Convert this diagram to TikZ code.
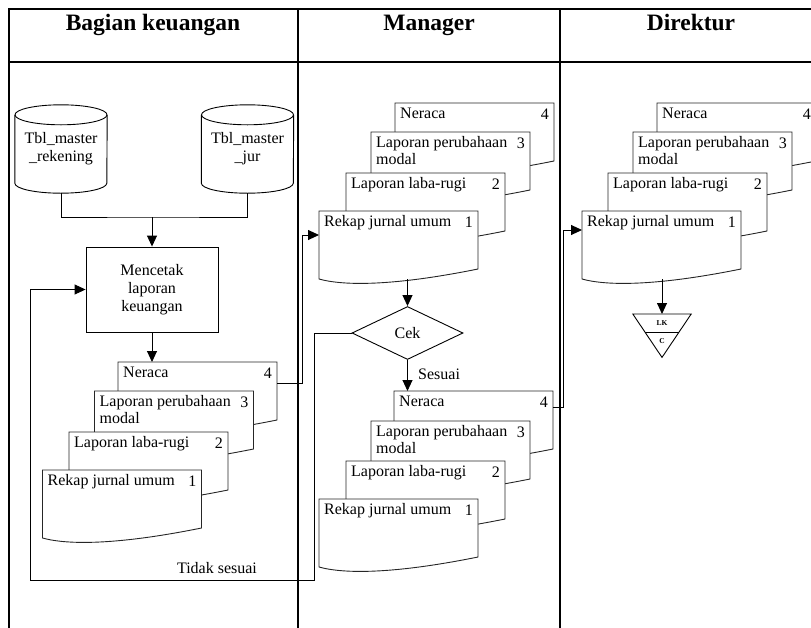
\documentclass[tikz,border=0pt]{standalone}
\usepackage{fontspec}
\setmainfont{Liberation Serif}
\usetikzlibrary{arrows.meta,calc,shapes.geometric}

\tikzset{
  frame/.style={line width=1.3pt, draw=black},
  outline/.style={line width=0.9pt, draw=black!85, fill=white},
  link/.style={line width=0.9pt, draw=black},
  arr/.style={link, -{Triangle[length=11pt,width=10pt]}},
  docbox/.style={anchor=north west, minimum width=159pt, minimum height=68pt,
                 inner sep=0pt, outer sep=0pt},
  doctext/.style={font=\fontsize{16}{17}\selectfont, inner sep=0pt, align=left},
  body/.style={font=\fontsize{16}{18}\selectfont, align=center, inner sep=0pt},
  title/.style={font=\fontsize{23.5}{26}\selectfont\bfseries, inner sep=0pt, anchor=base},
}

% document sheet with wavy bottom: name, x, y (top-left), label, page number
\newcommand\docsheet[5]{%
  \node[docbox] (#1) at (#2,#3) {};
  \draw[outline] (#1.north west) -- (#1.north east) -- ([yshift=10pt]#1.south east)
    .. controls ([xshift=75pt,yshift=-7pt]#1.south west)
       and ([xshift=25pt,yshift=-7pt]#1.south west) .. (#1.south west) -- cycle;
  \node[doctext, anchor=north west] (#1-t) at ([xshift=5pt,yshift=-3pt]#1.north west) {\strut #4};
  \node[doctext, anchor=base east] (#1-n) at ([xshift=-5pt,yshift=-16pt]#1.north east) {#5};
}

% database cylinder drawn round a named node
\newcommand\dbcyl[4]{% name, x, y (centre), text
  \node[body, minimum width=92pt, minimum height=88pt] (#1) at (#2,#3) {#4};
  \draw[link] ([yshift=-10pt]#1.north west) -- ([yshift=10pt]#1.south west)
    arc[start angle=180, end angle=360, x radius=46pt, y radius=10pt]
    -- ([yshift=-10pt]#1.north east);
  \draw[link] ([yshift=-10pt]#1.north) ellipse[x radius=46pt, y radius=10pt];
}

\begin{document}
\begin{tikzpicture}[x=1pt, y=-1pt]
\useasboundingbox (0,0) rectangle (811,627);
\clip (0,0) rectangle (811,627);

% swimlane table
\draw[frame] (830,9) -- (9,9) -- (9,640);
\draw[frame] (9,62) -- (830,62);
\draw[frame] (298,9) -- (298,640);
\draw[frame] (560,9) -- (560,640);
\node[title] (hA) at (153,30.5) {Bagian keuangan};
\node[title] (hB) at (429,30.5) {Manager};
\node[title] (hC) at (691,30.5) {Direktur};

% Bagian keuangan
\dbcyl{cylA}{61}{149}{Tbl\_master\\\_rekening}
\dbcyl{cylB}{247.5}{149}{Tbl\_master\\\_jur}
\node[body, draw, line width=0.9pt, minimum width=132pt, minimum height=85pt]
  (proc) at (152,289.5) {Mencetak\\laporan\\keuangan};
\coordinate (jn) at (152,217);
\draw[link] (cylA.south) |- (jn) -| (cylB.south);
\draw[arr] (jn) -- (proc.north);

\docsheet{lA4}{118}{362}{Neraca}{4}
\docsheet{lA3}{94.5}{391}{Laporan perubahaan\\modal}{3}
\docsheet{lA2}{69}{432}{Laporan laba-rugi}{2}
\docsheet{lA1}{42.5}{470}{Rekap jurnal umum}{1}
\draw[arr] (proc.south) -- (proc.south |- lA4.north);

% Manager
\docsheet{mR4}{395}{103}{Neraca}{4}
\docsheet{mR3}{371}{132}{Laporan perubahaan\\modal}{3}
\docsheet{mR2}{346}{173}{Laporan laba-rugi}{2}
\docsheet{mR1}{319}{211}{Rekap jurnal umum}{1}

\node[diamond, draw, line width=0.9pt, minimum width=111pt, minimum height=53pt,
      inner sep=0pt, aspect=2.1, font=\fontsize{16}{18}\selectfont] (cek) at (407.5,333) {Cek};
\draw[arr] (mR1.south -| cek.north) -- (cek.north);

\docsheet{mB4}{394}{391}{Neraca}{4}
\docsheet{mB3}{371}{421}{Laporan perubahaan\\modal}{3}
\docsheet{mB2}{346}{461}{Laporan laba-rugi}{2}
\docsheet{mB1}{319}{499}{Rekap jurnal umum}{1}
\draw[arr] (cek.south) -- (cek.south |- mB4.north);
\node[body, anchor=west] (ok) at (418,374) {Sesuai};

\draw[arr] ([yshift=-21pt]lA4.north east) -- ++(25,0) |- ([yshift=-24pt]mR1.north west);

% rejected: back to printing
\coordinate (lp1) at (314,580);
\coordinate (lp2) at (30,580);
\draw[arr] (cek.west) -| (lp1) -- (lp2) |- (proc.west);
\node[body] (nok) at (217,568) {Tidak sesuai};

% Direktur
\docsheet{dR4}{657}{103}{Neraca}{4}
\docsheet{dR3}{633}{132}{Laporan perubahaan\\modal}{3}
\docsheet{dR2}{608}{173}{Laporan laba-rugi}{2}
\docsheet{dR1}{582}{211}{Rekap jurnal umum}{1}
\draw[arr] ([yshift=-16pt]mB4.north east) -- ++(10,0) |- ([yshift=-19pt]dR1.north west);

% archive
\node[minimum width=58pt, minimum height=43pt, inner sep=0pt, anchor=north] (tri) at (662,314) {};
\draw[link] (tri.north west) -- (tri.north east) -- (tri.south) -- cycle;
\draw[link] ($(tri.north west)!0.42!(tri.south)$) -- ($(tri.north east)!0.42!(tri.south)$);
\node[font=\fontsize{7.5}{8}\selectfont\bfseries, inner sep=0pt] (tri-a) at ($(tri.north)!0.21!(tri.south)$) {LK};
\node[font=\fontsize{7.5}{8}\selectfont\bfseries, inner sep=0pt] (tri-b) at ($(tri.north)!0.63!(tri.south)$) {C};
\draw[arr] (dR1.south -| tri.north) -- (tri.north);
\end{tikzpicture}
\end{document}
